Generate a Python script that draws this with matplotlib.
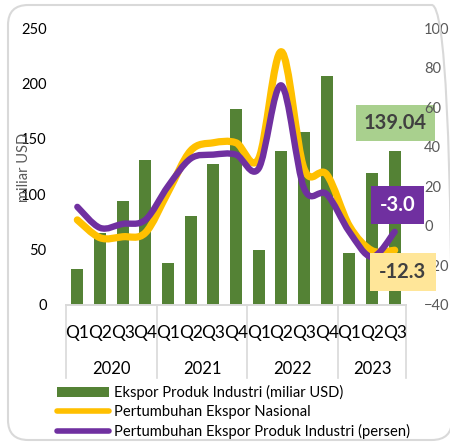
import matplotlib.pyplot as plt
from matplotlib.path import Path
from matplotlib.patches import PathPatch, FancyBboxPatch, Patch
from matplotlib.lines import Line2D
import matplotlib.transforms as mtransforms

plt.rcParams['font.family'] = ['Lato', 'DejaVu Sans']

# data
quarters = ['Q1', 'Q2', 'Q3', 'Q4', 'Q1', 'Q2', 'Q3', 'Q4',
            'Q1', 'Q2', 'Q3', 'Q4', 'Q1', 'Q2', 'Q3']
years = ['2020', '2021', '2022', '2023']
quarters_per_year = [4, 4, 4, 3]
ekspor_industri = [32.5, 65, 94, 131, 38, 80, 127, 177,
                   50, 139, 156, 207, 47, 119, 139.04]
pertumbuhan_nasional = [3, -6, -5.5, -3.5, 17, 38, 42, 42,
                        34, 88, 29, 26, 0, -12.5, -12.3]
pertumbuhan_industri = [9.6, -1, 1, 3, 20, 34, 36, 36,
                        29, 71, 19, 16, -3, -15.7, -3.0]

GREEN = '#548235'
YELLOW = '#ffc000'
PURPLE = '#7030a0'
GRAY_LINE = '#d9d9d9'
GRAY_TXT = '#595959'


def smooth_path(xs, ys):
    # Excel-style smoothed line: cubic bezier with catmull-rom control points
    n = len(xs)
    verts = [(xs[0], ys[0])]
    codes = [Path.MOVETO]
    for i in range(n - 1):
        x0, y0 = xs[max(i - 1, 0)], ys[max(i - 1, 0)]
        x1, y1 = xs[i], ys[i]
        x2, y2 = xs[i + 1], ys[i + 1]
        x3, y3 = xs[min(i + 2, n - 1)], ys[min(i + 2, n - 1)]
        c1 = (x1 + (x2 - x0) / 6, y1 + (y2 - y0) / 6)
        c2 = (x2 - (x3 - x1) / 6, y2 - (y3 - y1) / 6)
        verts += [c1, c2, (x2, y2)]
        codes += [Path.CURVE4] * 3
    return Path(verts, codes)


fig = plt.figure(figsize=(4.5, 4.45), dpi=100)
ax = fig.add_axes([66 / 450, 1 - 305 / 445, 340 / 450, 277 / 445])
ax2 = ax.twinx()

x = list(range(len(quarters)))
ax.bar(x, ekspor_industri, width=0.54, color=GREEN, zorder=2)
ax.set_xlim(-0.5, len(quarters) - 0.5)
ax.set_ylim(0, 250)
ax.set_yticks([0, 50, 100, 150, 200, 250])
ax.tick_params(axis='y', length=0, pad=14, labelsize=10.5, labelcolor='#000000')
ax.set_xticks([])

ax2.set_ylim(-40, 100)
ax2.set_yticks(range(-40, 101, 20))
ax2.tick_params(axis='y', length=0, pad=13, labelsize=10.5, labelcolor=GRAY_TXT)

for a in (ax, ax2):
    for s in ('left', 'right', 'top'):
        a.spines[s].set_visible(False)
    a.spines['bottom'].set_color(GRAY_LINE)
    a.spines['bottom'].set_linewidth(1.2)

ax2.add_patch(PathPatch(smooth_path(x, pertumbuhan_nasional), fill=False,
                        edgecolor=YELLOW, lw=5.2, capstyle='round', joinstyle='round'))
ax2.add_patch(PathPatch(smooth_path(x, pertumbuhan_industri), fill=False,
                        edgecolor=PURPLE, lw=4.6, capstyle='round', joinstyle='round'))

# two-level category axis
trans = mtransforms.blended_transform_factory(ax.transData, ax.transAxes)
for i, q in enumerate(quarters):
    ax.text(i, -0.1, q, transform=trans, ha='center', va='center',
            fontsize=12.5, color='#000000')
start = 0
bounds = [-0.5]
for yr, cnt in zip(years, quarters_per_year):
    ax.text(start + (cnt - 1) / 2, -0.232, yr, transform=trans, ha='center',
            va='center', fontsize=12, color='#000000')
    start += cnt
    bounds.append(start - 0.5)
for b in bounds:
    ax.plot([b, b], [0, -0.265], transform=trans, color=GRAY_LINE, lw=1.2,
            clip_on=False)

# data labels
last = len(quarters) - 1
ax.annotate(f'{ekspor_industri[-1]:.2f}', xy=(last, ekspor_industri[-1]),
            xytext=(0.5, 20), textcoords='offset points', ha='center', va='center',
            fontsize=14.5, fontweight='bold', color='#404040', zorder=5,
            bbox=dict(boxstyle='square,pad=0.4', fc='#a9d08e', ec='none'))
ax2.annotate(f'{pertumbuhan_industri[-1]:.1f}', xy=(last, pertumbuhan_industri[-1]),
             xytext=(2, 19), textcoords='offset points', ha='center', va='center',
             fontsize=14.5, fontweight='bold', color='white', zorder=5,
             bbox=dict(boxstyle='square,pad=0.45', fc=PURPLE, ec='none'))
ax2.annotate(f'{pertumbuhan_nasional[-1]:.1f}', xy=(last, pertumbuhan_nasional[-1]),
             xytext=(6, -15.5), textcoords='offset points', ha='center', va='center',
             fontsize=14.5, fontweight='bold', color='#404040', zorder=5,
             bbox=dict(boxstyle='square,pad=0.45', fc='#ffe699', ec='none'))

# axis titles
fig.text(24 / 450, 1 - 167 / 445, 'miliar USD', rotation=90, ha='center',
         va='center', fontsize=10.5, color=GRAY_TXT)
fig.text(454 / 450, 1 - 167 / 445, 'persen', rotation=90, ha='center',
         va='center', fontsize=10.5, color=GRAY_TXT)

# legend
handles = [Patch(facecolor=GREEN),
           Line2D([], [], color=YELLOW, lw=4, solid_capstyle='round'),
           Line2D([], [], color=PURPLE, lw=4, solid_capstyle='round')]
labels = ['Ekspor Produk Industri (miliar USD)', 'Pertumbuhan Ekspor Nasional',
          'Pertumbuhan Ekspor Produk Industri (persen)']
fig.legend(handles, labels, loc='upper left', bbox_to_anchor=(57 / 450, 1 - 385 / 445),
           frameon=False, fontsize=10.6, handlelength=3.5, handleheight=0.6,
           handletextpad=0.4, labelspacing=0.33, borderpad=0, borderaxespad=0,
           labelcolor='#000000')

# chart border
fig.patches.append(FancyBboxPatch((8 / 450, 5 / 445), 444 / 450, 435 / 445,
                                  boxstyle='round,pad=0,rounding_size=0.045',
                                  transform=fig.transFigure, fill=False,
                                  ec=GRAY_LINE, lw=1.5))

fig.savefig('out.png', dpi=100)
